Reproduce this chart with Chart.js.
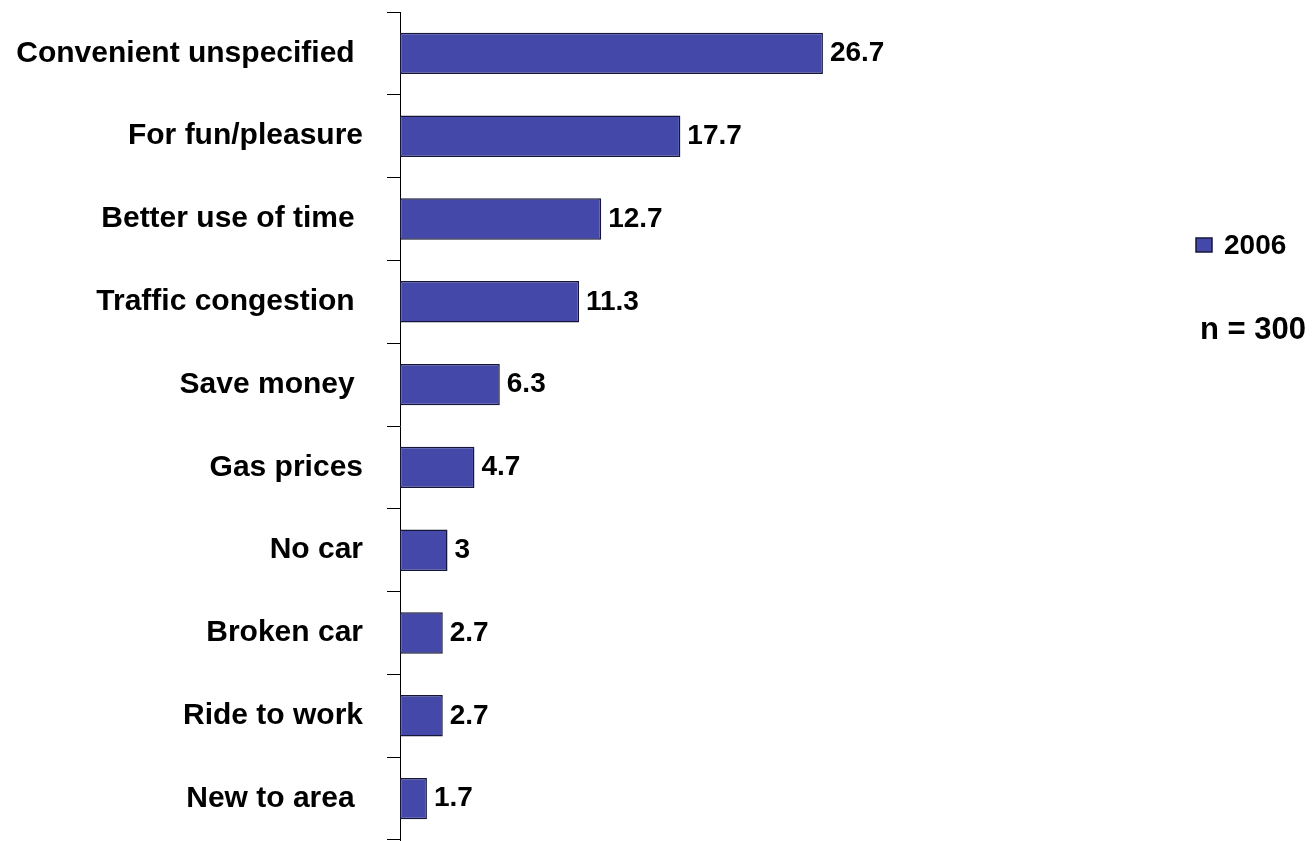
<!DOCTYPE html>
<html>
<head>
    <title>Reasons 2006</title>
    <script src="https://cdn.jsdelivr.net/npm/chart.js"></script>
    <style>
        body { margin: 0; background: #fff; }
        #wrap { width: 1313px; height: 841px; }
    </style>
</head>
<body>
    <div id="wrap"><canvas id="myChart"></canvas></div>
    <script>
        // categories (trailing spaces kept as in the source labels)
        var reasons = ['Convenient unspecified ', 'For fun/pleasure', 'Better use of time ', 'Traffic congestion ',
                       'Save money ', 'Gas prices', 'No car', 'Broken car', 'Ride to work', 'New to area '];
        var pct2006 = [26.7, 17.7, 12.7, 11.3, 6.3, 4.7, 3, 2.7, 2.7, 1.7];
        var seriesName = '2006';
        var sampleNote = 'n = 300';

        var barFill = '#4448A8';
        var barEdge = '#16163A';
        var fontFamily = '"Liberation Sans", Arial, sans-serif';

        // value labels next to each bar, plus legend box and sample size
        var extras = {
            id: 'extras',
            afterDatasetsDraw: function(chart) {
                var ctx = chart.ctx;
                var meta = chart.getDatasetMeta(0);
                ctx.save();
                ctx.fillStyle = '#000';
                ctx.font = 'bold 28px ' + fontFamily;
                ctx.textAlign = 'left';
                ctx.textBaseline = 'middle';
                meta.data.forEach(function(bar, i) {
                    ctx.fillText(String(pct2006[i]), bar.x + 7, bar.y);
                });

                // legend
                ctx.fillStyle = barFill;
                ctx.fillRect(1196, 238, 16, 14);
                ctx.strokeStyle = barEdge;
                ctx.lineWidth = 1.5;
                ctx.strokeRect(1196, 238, 16, 14);
                ctx.fillStyle = '#000';
                ctx.font = 'bold 28px ' + fontFamily;
                ctx.fillText(seriesName, 1224, 246);
                ctx.font = 'bold 31px ' + fontFamily;
                ctx.fillText(sampleNote, 1200, 330);
                ctx.restore();
            }
        };

        var ctx = document.getElementById('myChart').getContext('2d');
        var chart = new Chart(ctx, {
            type: 'bar',
            data: {
                labels: reasons,
                datasets: [{
                    label: seriesName,
                    data: pct2006,
                    backgroundColor: barFill,
                    borderColor: barEdge,
                    borderWidth: 1.5,
                    borderSkipped: false,
                    barPercentage: 0.5,
                    categoryPercentage: 1
                }]
            },
            options: {
                indexAxis: 'y',
                responsive: true,
                maintainAspectRatio: false,
                animation: false,
                layout: { padding: { left: 0, right: 121, top: 12, bottom: 1 } },
                plugins: {
                    legend: { display: false },
                    tooltip: { enabled: false }
                },
                scales: {
                    x: { display: false, min: 0, max: 50 },
                    y: {
                        afterFit: function(scale) {
                            scale.width = 400;
                            scale.paddingTop = 0;
                            scale.paddingBottom = 0;
                        },
                        grid: {
                            offset: true,
                            drawOnChartArea: false,
                            drawTicks: true,
                            tickLength: 13,
                            color: '#000'
                        },
                        border: { display: true, color: '#000', width: 1 },
                        ticks: {
                            color: '#000',
                            padding: 24,
                            font: { family: fontFamily, size: 30, weight: 'bold' }
                        }
                    }
                }
            },
            plugins: [extras]
        });
    </script>
</body>
</html>
